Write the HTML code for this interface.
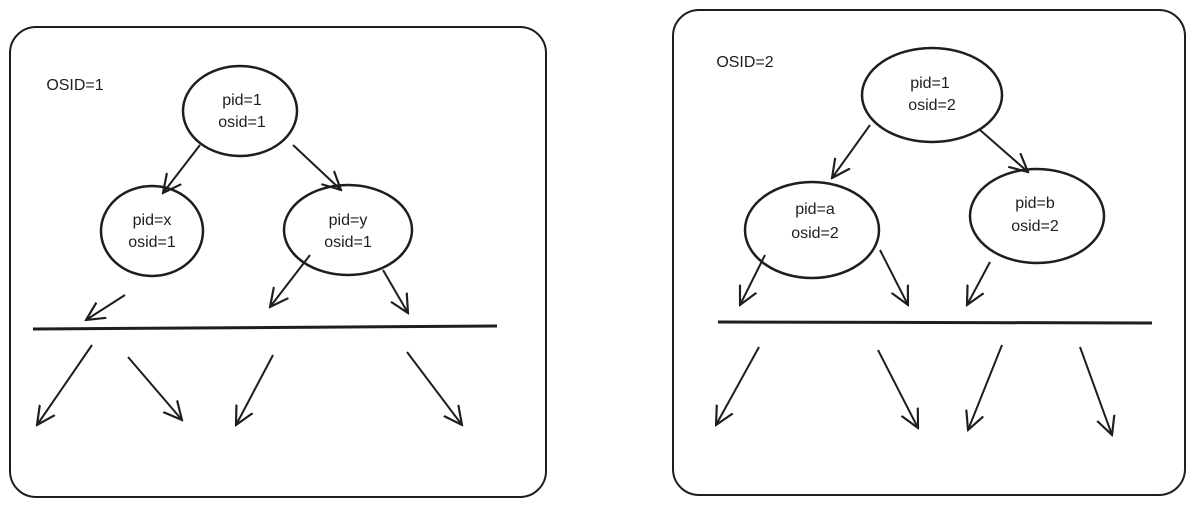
<!DOCTYPE html>
<html><head><style>body{margin:0;background:#fff}svg{display:block}</style></head><body>
<svg width="1194" height="505" viewBox="0 0 1194 505" xmlns="http://www.w3.org/2000/svg">
<defs><marker id="a" viewBox="0 0 12 12" refX="11" refY="6" markerWidth="20" markerHeight="20" markerUnits="userSpaceOnUse" orient="auto"><path d="M0,0.5 L11,6 L0,11.5" fill="none" stroke="#1e1e1e" stroke-width="1.3"/></marker></defs>
<g fill="none" stroke="#1e1e1e" stroke-width="2">
<rect x="10" y="27" width="536" height="470" rx="26"/>
<rect x="673" y="10" width="512" height="485" rx="26"/>
<g stroke-width="2.5">
<ellipse cx="240" cy="111" rx="57" ry="45"/>
<ellipse cx="152" cy="231" rx="51" ry="45"/>
<ellipse cx="348" cy="230" rx="64" ry="45"/>
<ellipse cx="932" cy="95" rx="70" ry="47"/>
<ellipse cx="812" cy="230" rx="67" ry="48"/>
<ellipse cx="1037" cy="216" rx="67" ry="47"/>
</g>
<line x1="33" y1="329" x2="497" y2="326" stroke-width="3"/>
<line x1="718" y1="322" x2="1152" y2="323" stroke-width="3"/>
<g marker-end="url(#a)" stroke-width="2">
<line x1="200" y1="145" x2="163" y2="193"/>
<line x1="293" y1="145" x2="341" y2="190"/>
<line x1="125" y1="295" x2="86" y2="320"/>
<line x1="310" y1="255" x2="270" y2="307"/>
<line x1="383" y1="270" x2="408" y2="313"/>
<line x1="92" y1="345" x2="37" y2="425"/>
<line x1="128" y1="357" x2="182" y2="420"/>
<line x1="273" y1="355" x2="236" y2="425"/>
<line x1="407" y1="352" x2="462" y2="425"/>
<line x1="870" y1="125" x2="832" y2="178"/>
<line x1="980" y1="130" x2="1028" y2="172"/>
<line x1="765" y1="255" x2="740" y2="305"/>
<line x1="880" y1="250" x2="908" y2="305"/>
<line x1="990" y1="262" x2="967" y2="305"/>
<line x1="759" y1="347" x2="716" y2="425"/>
<line x1="878" y1="350" x2="918" y2="428"/>
<line x1="1002" y1="345" x2="968" y2="430"/>
<line x1="1080" y1="347" x2="1112" y2="435"/>
</g></g>
<g font-family="Liberation Sans, sans-serif" font-size="16" fill="#1e1e1e" text-anchor="middle">
<text x="75" y="90">OSID=1</text>
<text x="745" y="67">OSID=2</text>
<text x="242" y="105">pid=1</text><text x="242" y="127">osid=1</text>
<text x="152" y="225">pid=x</text><text x="152" y="247">osid=1</text>
<text x="348" y="225">pid=y</text><text x="348" y="247">osid=1</text>
<text x="930" y="88">pid=1</text><text x="932" y="110">osid=2</text>
<text x="815" y="214">pid=a</text><text x="815" y="238">osid=2</text>
<text x="1035" y="208">pid=b</text><text x="1035" y="231">osid=2</text>
</g>
</svg>
</body></html>
